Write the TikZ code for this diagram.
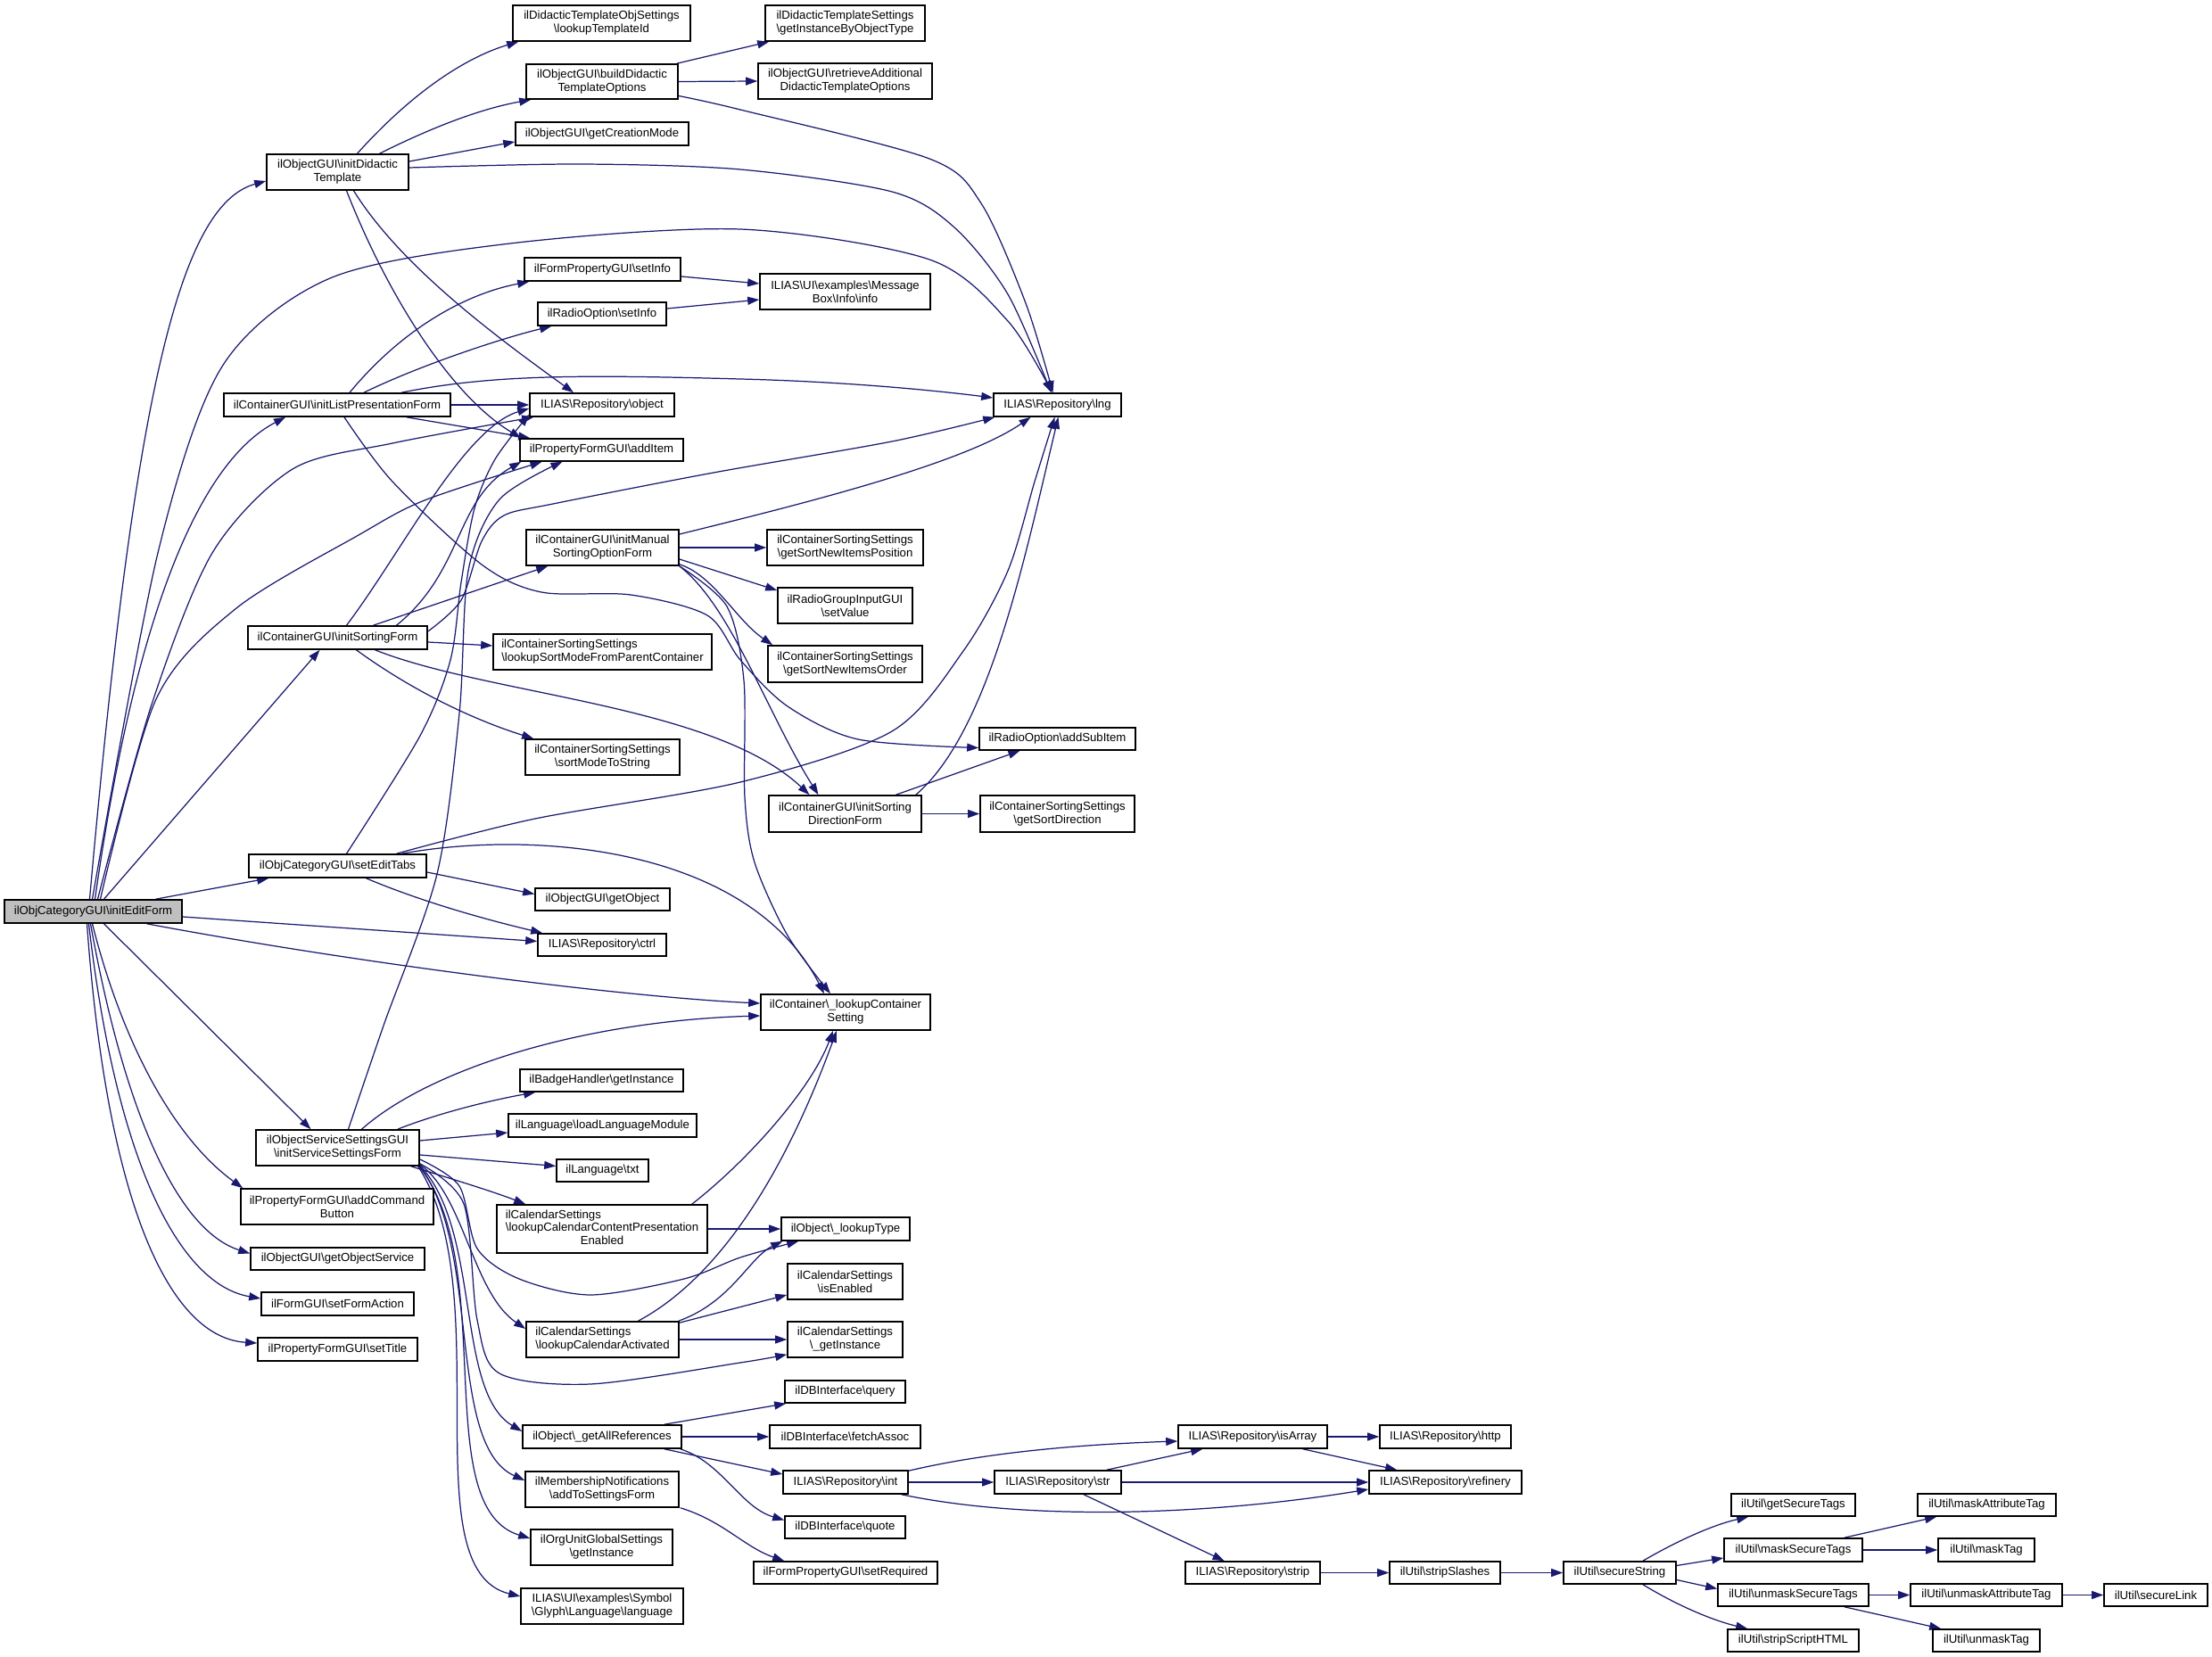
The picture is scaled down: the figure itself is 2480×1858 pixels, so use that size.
\documentclass[tikz,border=0pt]{standalone}
\usepackage{fontspec}
\setmainfont{Liberation Sans}
\usetikzlibrary{arrows.meta,calc}
\definecolor{edgec}{HTML}{191970}
\definecolor{mainfill}{HTML}{BFBFBF}
\pgfdeclarelayer{bglayer}
\pgfdeclarelayer{edgelayer}
\pgfsetlayers{bglayer,edgelayer,main}
\newcommand\BS{\textbackslash}
\tikzset{
  fn/.style={draw=black, line width=0.45pt, fill=white, inner sep=0pt, align=center,
    font=\fontsize{3.75pt}{4.25pt}\selectfont},
  mainfn/.style={fill=mainfill},
  call/.style={draw=edgec, line width=0.35pt, -{Triangle[length=0.13cm,width=0.09cm]}},
}
\newcommand\fnbox[7][]{%
  \node[fn,#1,minimum width={(#5-#3)*0.01cm},minimum height={(#6-#4)*0.01cm}] (#2) at ({(#3+#5)/2},{(#4+#6)/2}) {#7};}
\begin{document}
\begin{tikzpicture}[x=0.01cm,y=-0.01cm]
\useasboundingbox (0,0) rectangle (2480,1858);
\begin{pgfonlayer}{bglayer}
\fill[white] (0,0) rectangle (2480,1858);
\end{pgfonlayer}
% ---------------- nodes
\fnbox[mainfn]{main}{5}{1009}{204}{1035}{ilObjCategoryGUI\BS initEditForm}
\fnbox{dtid}{575}{6}{774}{46}{ilDidacticTemplateObjSettings\\\BS lookupTemplateId}
\fnbox{bdto}{590}{72}{760}{111}{ilObjectGUI\BS buildDidactic\\TemplateOptions}
\fnbox{gcm}{578}{137}{772}{163}{ilObjectGUI\BS getCreationMode}
\fnbox{idt}{299}{173}{458}{213}{ilObjectGUI\BS initDidactic\\Template}
\fnbox{gibot}{858}{6}{1037}{46}{ilDidacticTemplateSettings\\\BS getInstanceByObjectType}
\fnbox{radto}{850}{71}{1045}{111}{ilObjectGUI\BS retrieveAdditional\\DidacticTemplateOptions}
\fnbox{fpsi}{588}{289}{763}{315}{ilFormPropertyGUI\BS setInfo}
\fnbox{rosi}{603}{339}{747}{365}{ilRadioOption\BS setInfo}
\fnbox{info}{852}{307}{1043}{347}{ILIAS\BS UI\BS examples\BS Message\\Box\BS Info\BS info}
\fnbox{ilpf}{251}{441}{505}{467}{ilContainerGUI\BS initListPresentationForm}
\fnbox{obj}{594}{441}{756}{467}{ILIAS\BS Repository\BS object}
\fnbox{lng}{1114}{441}{1257}{467}{ILIAS\BS Repository\BS lng}
\fnbox{add}{583}{492}{766}{517}{ilPropertyFormGUI\BS addItem}
\fnbox{imso}{590}{594}{761}{634}{ilContainerGUI\BS initManual\\SortingOptionForm}
\fnbox{gsnip}{860}{594}{1035}{634}{ilContainerSortingSettings\\\BS getSortNewItemsPosition}
\fnbox{rgsv}{872}{659}{1023}{699}{ilRadioGroupInputGUI\\\BS setValue}
\fnbox{isf}{278}{702}{479}{728}{ilContainerGUI\BS initSortingForm}
\fnbox[align=left]{lsmp}{553}{711}{798}{751}{ilContainerSortingSettings\\\BS lookupSortModeFromParentContainer}
\fnbox{gsno}{861}{724}{1034}{765}{ilContainerSortingSettings\\\BS getSortNewItemsOrder}
\fnbox{asi}{1098}{816}{1273}{841}{ilRadioOption\BS addSubItem}
\fnbox{smts}{589}{829}{762}{869}{ilContainerSortingSettings\\\BS sortModeToString}
\fnbox{isdf}{862}{892}{1033}{933}{ilContainerGUI\BS initSorting\\DirectionForm}
\fnbox{gsd}{1099}{892}{1272}{933}{ilContainerSortingSettings\\\BS getSortDirection}
\fnbox{set}{279}{958}{478}{984}{ilObjCategoryGUI\BS setEditTabs}
\fnbox{gob}{600}{996}{751}{1021}{ilObjectGUI\BS getObject}
\fnbox{ctrl}{603}{1047}{747}{1072}{ILIAS\BS Repository\BS ctrl}
\fnbox{lcs}{853}{1115}{1043}{1155}{ilContainer\BS\_lookupContainer\\Setting}
\fnbox{badge}{583}{1199}{766}{1224}{ilBadgeHandler\BS getInstance}
\fnbox{llm}{570}{1249}{781}{1275}{ilLanguage\BS loadLanguageModule}
\fnbox{iss}{287}{1267}{470}{1307}{ilObjectServiceSettingsGUI\\\BS initServiceSettingsForm}
\fnbox{txt}{624}{1300}{727}{1325}{ilLanguage\BS txt}
\fnbox{acb}{270}{1333}{486}{1373}{ilPropertyFormGUI\BS addCommand\\Button}
\fnbox{lccpe}{557}{1351}{793}{1405}{\begin{tabular}{@{}l@{}}ilCalendarSettings\\\BS lookupCalendarContentPresentation\\\multicolumn{1}{@{}c@{}}{Enabled}\end{tabular}}
\fnbox{lty}{876}{1365}{1020}{1391}{ilObject\BS\_lookupType}
\fnbox{gos}{281}{1399}{476}{1424}{ilObjectGUI\BS getObjectService}
\fnbox{ise}{883}{1417}{1012}{1457}{ilCalendarSettings\\\BS isEnabled}
\fnbox{sfa}{293}{1449}{464}{1475}{ilFormGUI\BS setFormAction}
\fnbox[align=left]{lca}{590}{1482}{761}{1522}{ilCalendarSettings\\\BS lookupCalendarActivated}
\fnbox{gi}{883}{1482}{1012}{1522}{ilCalendarSettings\\\BS\_getInstance}
\fnbox{stt}{289}{1500}{468}{1526}{ilPropertyFormGUI\BS setTitle}
\fnbox{query}{880}{1548}{1015}{1573}{ilDBInterface\BS query}
\fnbox{gar}{586}{1598}{764}{1624}{ilObject\BS\_getAllReferences}
\fnbox{fa}{863}{1598}{1032}{1624}{ilDBInterface\BS fetchAssoc}
\fnbox{isarr}{1321}{1598}{1488}{1624}{ILIAS\BS Repository\BS isArray}
\fnbox{http}{1547}{1598}{1694}{1624}{ILIAS\BS Repository\BS http}
\fnbox{mn}{589}{1650}{761}{1690}{ilMembershipNotifications\\\BS addToSettingsForm}
\fnbox{int}{878}{1649}{1018}{1675}{ILIAS\BS Repository\BS int}
\fnbox{str}{1115}{1649}{1257}{1675}{ILIAS\BS Repository\BS str}
\fnbox{ref}{1535}{1649}{1706}{1675}{ILIAS\BS Repository\BS refinery}
\fnbox{gst}{1941}{1675}{2080}{1700}{ilUtil\BS getSecureTags}
\fnbox{mat}{2150}{1675}{2305}{1700}{ilUtil\BS maskAttributeTag}
\fnbox{quote}{880}{1700}{1015}{1725}{ilDBInterface\BS quote}
\fnbox{ougs}{595}{1715}{754}{1755}{ilOrgUnitGlobalSettings\\\BS getInstance}
\fnbox{mst}{1933}{1725}{2088}{1751}{ilUtil\BS maskSecureTags}
\fnbox{mt}{2173}{1725}{2281}{1751}{ilUtil\BS maskTag}
\fnbox{sreq}{845}{1751}{1051}{1776}{ilFormPropertyGUI\BS setRequired}
\fnbox{strip}{1329}{1751}{1480}{1776}{ILIAS\BS Repository\BS strip}
\fnbox{ss}{1558}{1751}{1682}{1776}{ilUtil\BS stripSlashes}
\fnbox{secs}{1753}{1751}{1879}{1776}{ilUtil\BS secureString}
\fnbox{ust}{1926}{1776}{2095}{1801}{ilUtil\BS unmaskSecureTags}
\fnbox{uat}{2142}{1776}{2312}{1801}{ilUtil\BS unmaskAttributeTag}
\fnbox{sl}{2359}{1776}{2475}{1801}{ilUtil\BS secureLink}
\fnbox{sym}{584}{1781}{766}{1821}{ILIAS\BS UI\BS examples\BS Symbol\\\BS Glyph\BS Language\BS language}
\fnbox{ssh}{1937}{1827}{2084}{1852}{ilUtil\BS stripScriptHTML}
\fnbox{ut}{2167}{1827}{2287}{1852}{ilUtil\BS unmaskTag}
% ---------------- edges
\begin{pgfonlayer}{edgelayer}
% main
\draw[call] ($(main.north)+(-4,0)$) .. controls (150,450) and (200,230) .. ($(idt.west)+(0,10)$);
\draw[call] plot[smooth] coordinates {($(main.north)+(-1,0)$) (177,620) (249,411) (370,312) (572,273) (830,257) (1042,291) (1130,360) ($(lng.north)+(-6,0)$)};
\draw[call] ($(main.north)+(2,0)$) .. controls (150,700) and (220,520) .. ($(ilpf.south)+(-58,0)$);
\draw[call] plot[smooth] coordinates {($(main.north)+(5,0)$) (170,790) (238,620) (328,526) (440,497) ($(obj.south west)+(5,0)$)};
\draw[call] plot[smooth] coordinates {($(main.north)+(8,0)$) (175,784) (265,682) (402,600) (476,561) ($(add.south)+(-67,0)$)};
\draw[call] ($(main.north)+(12,0)$) -- ($(isf.south)+(-20,0)$);
\draw[call] ($(main.north)+(70,0)$) -- ($(set.south west)+(23,0)$);
\draw[call] ($(main.east)+(0,6)$) -- ($(ctrl.west)+(0,-4)$);
\draw[call] ($(main.south)+(60,0)$) .. controls (400,1080) and (700,1118) .. ($(lcs.west)+(0,-10)$);
\draw[call] ($(main.south)+(12,0)$) -- ($(iss.north)+(-30,0)$);
\draw[call] ($(main.south)+(-1,0)$) .. controls (140,1180) and (200,1280) .. ($(acb.north west)+(3,0)$);
\draw[call] ($(main.south)+(-3,0)$) .. controls (140,1250) and (200,1380) .. ($(gos.west)+(0,-6)$);
\draw[call] ($(main.south)+(-5,0)$) .. controls (130,1300) and (200,1440) .. ($(sfa.west)+(0,-6)$);
\draw[call] ($(main.south)+(-7,0)$) .. controls (120,1350) and (190,1500) .. ($(stt.west)+(0,-7)$);
% initDidacticTemplate
\draw[call] ($(idt.north)+(22,0)$) .. controls (470,95) and (530,62) .. ($(dtid.south west)+(7,0)$);
\draw[call] ($(idt.north)+(47,0)$) .. controls (500,135) and (550,120) .. ($(bdto.south west)+(6,0)$);
\draw[call] ($(idt.east)+(0,-12)$) -- ($(gcm.west)+(0,9)$);
\draw[call] plot[smooth] coordinates {($(idt.east)+(0,-5)$) (650,184) (830,190) (1000,215) (1070,255) (1130,330) ($(lng.north)+(-7,0)$)};
\draw[call] ($(idt.south)+(18,0)$) .. controls (450,300) and (560,380) .. ($(obj.north)+(-32,0)$);
\draw[call] ($(idt.south)+(10,0)$) .. controls (430,320) and (500,440) .. ($(add.north west)+(2,0)$);
% buildDidacticTemplateOptions
\draw[call] ($(bdto.north east)+(-2,0)$) -- ($(gibot.south west)+(5,0)$);
\draw[call] (bdto.east) -- (radto.west);
\draw[call] plot[smooth] coordinates {($(bdto.east)+(0,16)$) (830,123) (1042,178) (1100,228) (1150,340) ($(lng.north)+(-5,0)$)};
% setInfo
\draw[call] ($(fpsi.east)+(0,8)$) -- ($(info.west)+(0,-9)$);
\draw[call] ($(rosi.east)+(0,-6)$) -- ($(info.west)+(0,9)$);
% initListPresentationForm
\draw[call] ($(ilpf.north)+(14,0)$) .. controls (450,370) and (520,330) .. ($(fpsi.south west)+(6,0)$);
\draw[call] ($(ilpf.north)+(30,0)$) .. controls (470,410) and (560,380) .. ($(rosi.south west)+(16,0)$);
\draw[call] ($(ilpf.north)+(72,0)$) .. controls (550,420) and (650,420) .. (830,425) .. controls (950,428) and (1050,438) .. ($(lng.west)+(0,-8)$);
\draw[call] (ilpf.east) -- (obj.west);
\draw[call] ($(ilpf.south east)+(-50,0)$) -- ($(add.north west)+(12,0)$);
\draw[call] plot[smooth] coordinates {($(ilpf.south)+(8,0)$) (440,540) (540,633) (607,664) (707,667) (793,690) (830,740) (883,792) (962,829) ($(asi.west)+(0,10)$)};
% initManualSortingOptionForm
\draw[call] ($(imso.east)+(0,-15)$) .. controls (900,565) and (1080,520) .. ($(lng.south)+(-30,0)$);
\draw[call] (imso.east) -- (gsnip.west);
\draw[call] ($(imso.east)+(0,13)$) -- ($(rgsv.west)+(0,-17)$);
\draw[call] ($(imso.south east)+(0,-2)$) .. controls (800,645) and (825,695) .. ($(gsno.north west)+(6,0)$);
\draw[call] ($(imso.south east)+(0,0)$) .. controls (820,680) and (860,800) .. ($(isdf.north)+(-30,0)$);
\draw[call] plot[smooth] coordinates {($(imso.south east)+(0,0)$) (815,680) (834,763) (835,894) (846,967) (883,1049) ($(lcs.north)+(-17,0)$)};
% initSortingForm
\draw[call] ($(isf.north)+(10,0)$) .. controls (450,620) and (520,480) .. ($(obj.west)+(0,4)$);
\draw[call] ($(isf.north)+(66,0)$) .. controls (520,640) and (510,560) .. ($(add.south west)+(2,0)$);
\draw[call] ($(isf.north)+(40,0)$) -- ($(imso.south west)+(25,0)$);
\draw[call] ($(isf.east)+(0,5)$) -- ($(lsmp.west)+(0,-7)$);
\draw[call] ($(isf.south)+(21,0)$) .. controls (470,780) and (540,810) .. ($(smts.north west)+(10,0)$);
\draw[call] ($(isf.south)+(42,0)$) .. controls (550,780) and (800,790) .. ($(isdf.north)+(-40,0)$);
\draw[call] plot[smooth] coordinates {($(isf.east)+(0,-7)$) (517,673) (540,607) (565,578) (620,565) (800,530) (1000,495) ($(lng.south west)+(2,0)$)};
% setEditTabs
\draw[call] plot[smooth] coordinates {($(set.north)+(10,0)$) (471,825) (505,740) (517,653) (532,570) (555,515) ($(obj.south west)+(0,-3)$)};
\draw[call] plot[smooth] coordinates {($(set.north)+(66,0)$) (600,918) (830,877) (1000,820) (1080,730) (1130,640) (1160,540) ($(lng.south)+(-3,0)$)};
\draw[call] ($(set.north)+(72,0)$) .. controls (600,930) and (840,950) .. ($(lcs.north)+(-24,0)$);
\draw[call] ($(set.east)+(0,7)$) -- ($(gob.west)+(0,-6)$);
\draw[call] ($(set.south)+(32,0)$) .. controls (470,1010) and (540,1030) .. ($(ctrl.north west)+(6,0)$);
% initSortingDirectionForm
\draw[call] ($(isdf.north east)+(-7,0)$) .. controls (1110,820) and (1150,620) .. ($(lng.south)+(1,0)$);
\draw[call] ($(isdf.north)+(57,0)$) -- ($(asi.south)+(-42,0)$);
\draw[call] (isdf.east) -- (gsd.west);
% initServiceSettingsForm
\draw[call] plot[smooth] coordinates {($(iss.north)+(12,0)$) (430,1150) (490,980) (515,800) (525,640) (560,560) ($(add.south)+(-44,0)$)};
\draw[call] ($(iss.north)+(27,0)$) .. controls (480,1200) and (650,1145) .. ($(lcs.west)+(0,4)$);
\draw[call] ($(iss.north east)+(-25,0)$) .. controls (500,1245) and (560,1232) .. ($(badge.south west)+(18,0)$);
\draw[call] ($(iss.east)+(0,-8)$) -- ($(llm.west)+(0,8)$);
\draw[call] ($(iss.east)+(0,8)$) -- ($(txt.west)+(0,-5)$);
\draw[call] ($(iss.south east)+(-10,0)$) .. controls (500,1320) and (550,1335) .. ($(lccpe.north west)+(33,0)$);
\draw[call] plot[smooth] coordinates {($(iss.east)+(0,13)$) (515,1330) (535,1400) (582,1434) (662,1452) (767,1434) (830,1410) ($(lty.south west)+(20,0)$)};
\draw[call] ($(iss.south east)+(0,-2)$) .. controls (520,1340) and (530,1450) .. ($(lca.west)+(0,-12)$);
\draw[call] plot[smooth] coordinates {($(iss.south east)+(0,-3)$) (520,1350) (535,1480) (560,1540) (662,1552) (830,1528) ($(gi.south west)+(0,-4)$)};
\draw[call] ($(iss.south east)+(0,-1)$) .. controls (540,1380) and (510,1560) .. ($(gar.west)+(0,-6)$);
\draw[call] ($(iss.south east)+(0,0)$) .. controls (540,1400) and (500,1620) .. ($(mn.west)+(0,-10)$);
\draw[call] ($(iss.south east)+(-1,0)$) .. controls (560,1420) and (480,1690) .. ($(ougs.west)+(0,-10)$);
\draw[call] ($(iss.south east)+(-2,0)$) .. controls (560,1450) and (460,1760) .. ($(sym.west)+(0,-11)$);
% calendar settings
\draw[call] ($(lccpe.north east)+(-18,0)$) .. controls (840,1300) and (910,1220) .. ($(lcs.south)+(-14,0)$);
\draw[call] (lccpe.east) -- (lty.west);
\draw[call] ($(lca.north)+(40,0)$) .. controls (830,1420) and (900,1260) .. ($(lcs.south)+(-10,0)$);
\draw[call] ($(lca.north east)+(-1,0)$) .. controls (820,1460) and (840,1410) .. ($(lty.south west)+(2,0)$);
\draw[call] ($(lca.north east)+(0,2)$) -- ($(ise.west)+(0,15)$);
\draw[call] (lca.east) -- (gi.west);
% getAllReferences
\draw[call] ($(gar.north east)+(-20,0)$) -- ($(query.south west)+(2,0)$);
\draw[call] (gar.east) -- (fa.west);
\draw[call] ($(gar.south east)+(-20,0)$) -- ($(int.west)+(0,-9)$);
\draw[call] ($(gar.south east)+(-2,0)$) .. controls (810,1640) and (830,1690) .. ($(quote.west)+(0,-8)$);
\draw[call] ($(mn.south east)+(1,0)$) .. controls (810,1705) and (835,1735) .. ($(sreq.north west)+(35,0)$);
% repository
\draw[call] ($(int.north east)+(0,1)$) .. controls (1100,1630) and (1200,1620) .. ($(isarr.west)+(0,5)$);
\draw[call] (int.east) -- (str.west);
\draw[call] ($(int.south east)+(-8,0)$) .. controls (1150,1705) and (1350,1700) .. ($(ref.west)+(0,8)$);
\draw[call] ($(str.north east)+(-17,0)$) -- ($(isarr.south west)+(28,0)$);
\draw[call] (str.east) -- (ref.west);
\draw[call] ($(str.south)+(29,0)$) -- ($(strip.north)+(-32,0)$);
\draw[call] (isarr.east) -- (http.west);
\draw[call] ($(isarr.south east)+(-28,0)$) -- ($(ref.north west)+(32,0)$);
\draw[call] (strip.east) -- (ss.west);
\draw[call] (ss.east) -- (secs.west);
% ilUtil
\draw[call] ($(secs.north)+(26,0)$) .. controls (1880,1728) and (1920,1710) .. ($(gst.south west)+(20,0)$);
\draw[call] ($(secs.east)+(0,-8)$) -- ($(mst.west)+(0,9)$);
\draw[call] ($(secs.east)+(0,8)$) -- ($(ust.west)+(0,-7)$);
\draw[call] ($(secs.south)+(26,0)$) .. controls (1880,1800) and (1920,1817) .. ($(ssh.north west)+(23,0)$);
\draw[call] ($(mst.north east)+(-21,0)$) -- ($(mat.south west)+(22,0)$);
\draw[call] (mst.east) -- (mt.west);
\draw[call] (ust.east) -- (uat.west);
\draw[call] ($(ust.south east)+(-28,0)$) -- ($(ut.north west)+(10,0)$);
\draw[call] (uat.east) -- (sl.west);
\end{pgfonlayer}
\end{tikzpicture}
\end{document}
